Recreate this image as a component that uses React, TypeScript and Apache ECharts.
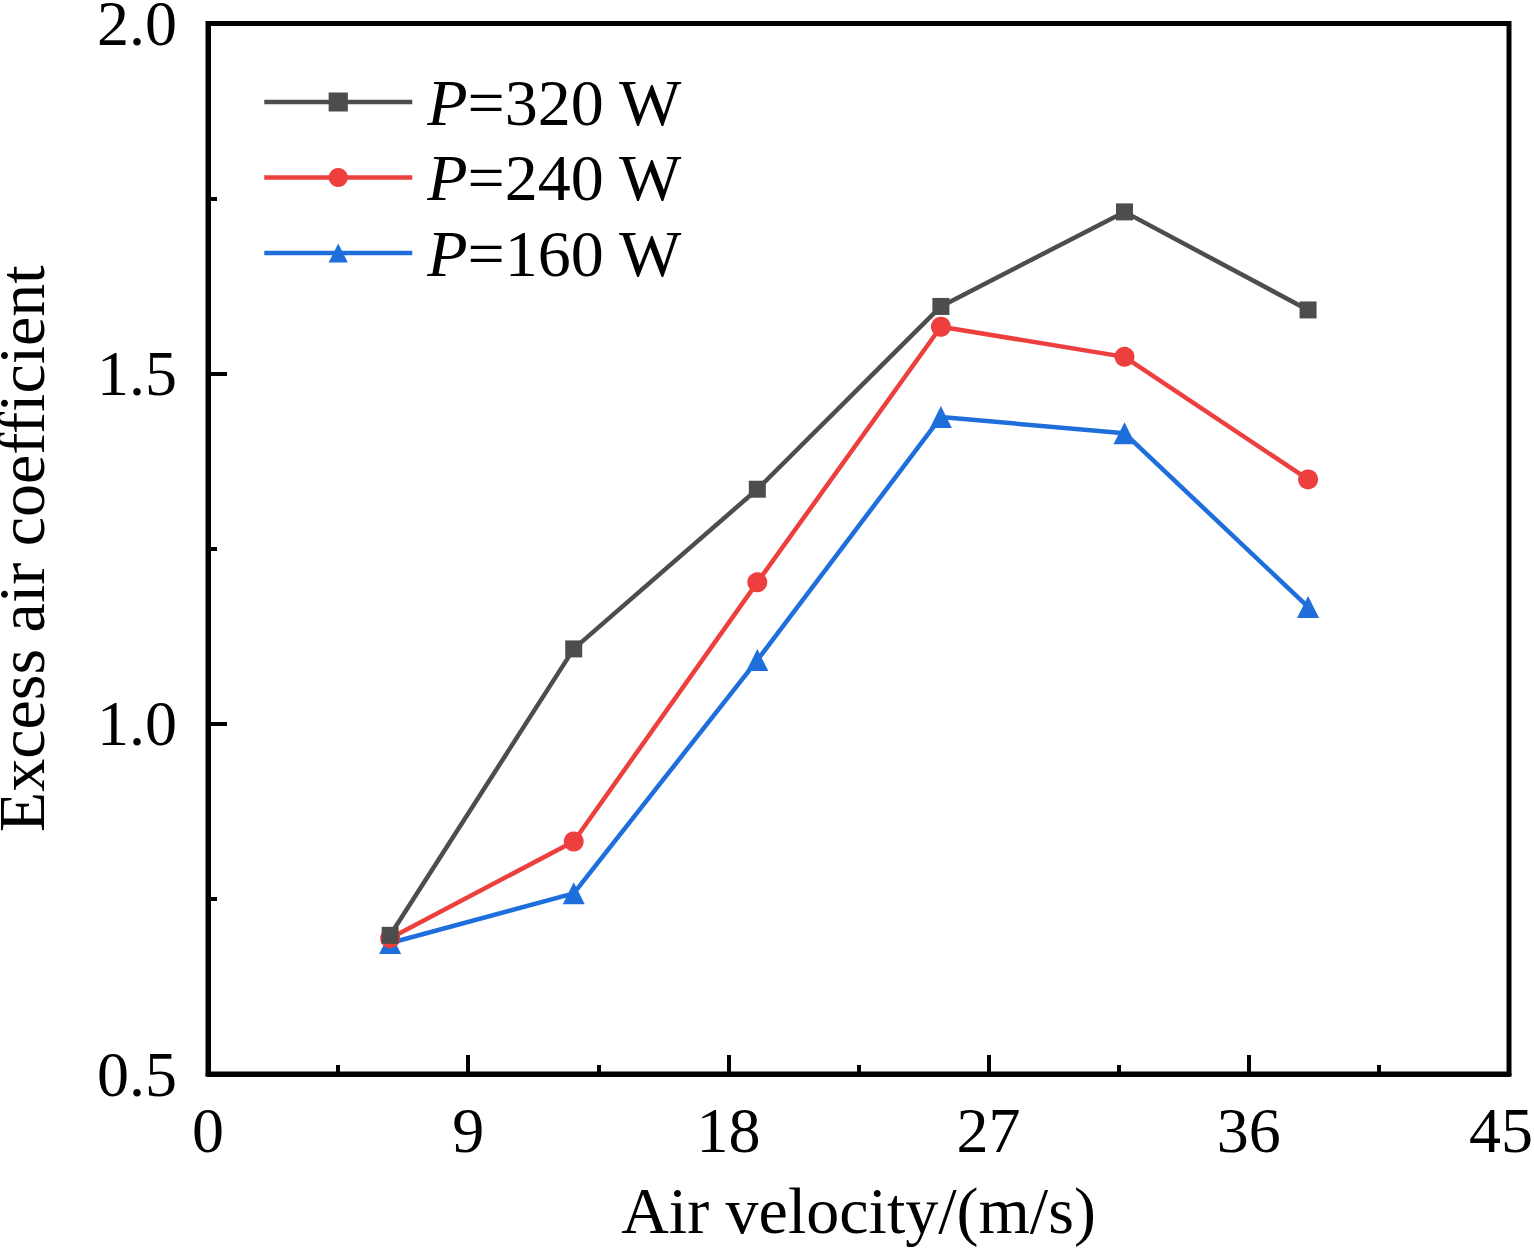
import React, { useEffect, useRef } from "react";
import * as echarts from "echarts";

const velocity = [6.3, 12.65, 19.0, 25.35, 31.7, 38.05];
const p320 = [0.698, 1.107, 1.335, 1.596, 1.731, 1.591];
const p240 = [0.694, 0.832, 1.202, 1.567, 1.524, 1.349];
const p160 = [0.687, 0.758, 1.091, 1.438, 1.415, 1.167];

const seriesNames = ["P=320 W", "P=240 W", "P=160 W"];
const seriesColors = ["#4d4d4d", "#ee3f3f", "#1e6fdc"];
const seriesSymbols = ["rect", "circle", "triangle"];
const symbolSizes = [17, 20, 22];

const FONT = "'Liberation Serif', 'Times New Roman', serif";

const App = () => {
    const chartRef = useRef(null);

    useEffect(() => {
        const chart = echarts.init(chartRef.current, null, { renderer: "svg" });
        const values = [p320, p240, p160];

        const series = seriesNames.map((name, i) => ({
            name,
            type: "line",
            data: velocity.map((v, j) => [v, values[i][j]]),
            symbol: seriesSymbols[i],
            symbolSize: symbolSizes[i],
            itemStyle: { color: seriesColors[i] },
            lineStyle: { color: seriesColors[i], width: 4.5 },
            z: 3 - i,
        }));

        const option = {
            animation: false,
            backgroundColor: "#fff",
            grid: {
                left: 208,
                right: 25,
                top: 23.5,
                bottom: 176,
                outerBoundsMode: "none",
                containLabel: false,
                show: true,
                borderColor: "#000",
                borderWidth: 5,
            },
            legend: {
                orient: "vertical",
                left: 262,
                top: 69,
                padding: 0,
                itemWidth: 148,
                itemHeight: 24,
                itemGap: 9.5,
                selectedMode: false,
                data: seriesNames,
                lineStyle: { width: 4.5 },
                formatter: (name) => "{i|P}{n|" + name.slice(1) + "}",
                textStyle: {
                    fontFamily: FONT,
                    fontSize: 66,
                    color: "#000",
                    lineHeight: 66,
                    rich: {
                        i: { fontFamily: FONT, fontSize: 66, fontStyle: "italic", color: "#000", padding: [0, 0, 0, 10], lineHeight: 66 },
                        n: { fontFamily: FONT, fontSize: 66, color: "#000", lineHeight: 66 },
                    },
                },
            },
            xAxis: {
                type: "value",
                min: 0,
                max: 45,
                interval: 9,
                name: "Air velocity/(m/s)",
                nameLocation: "middle",
                nameGap: 103,
                nameTextStyle: { fontFamily: FONT, fontSize: 66, color: "#000" },
                axisLine: { show: true, onZero: false, lineStyle: { color: "#000", width: 5 } },
                axisTick: { show: true, inside: true, length: 19, lineStyle: { color: "#000", width: 4 } },
                minorTick: { show: true, splitNumber: 2, length: 9, lineStyle: { color: "#000", width: 4 } },
                axisLabel: {
                    fontFamily: FONT,
                    fontSize: 64,
                    color: "#000",
                    margin: 24,
                    formatter: (v) => (v === 45 ? "{r|45}" : String(v)),
                    rich: {
                        r: { fontFamily: FONT, fontSize: 64, color: "#000", padding: [0, 16, 0, 0] },
                    },
                },
                splitLine: { show: false },
            },
            yAxis: {
                type: "value",
                min: 0.5,
                max: 2.0,
                interval: 0.5,
                name: "Excess air coefficient",
                nameLocation: "middle",
                nameGap: 154,
                nameTextStyle: { fontFamily: FONT, fontSize: 66, color: "#000" },
                axisLine: { show: true, onZero: false, lineStyle: { color: "#000", width: 5 } },
                axisTick: { show: true, inside: true, length: 19, lineStyle: { color: "#000", width: 4 } },
                minorTick: { show: true, splitNumber: 2, length: 9, lineStyle: { color: "#000", width: 4 } },
                axisLabel: {
                    fontFamily: FONT,
                    fontSize: 64,
                    lineHeight: 44,
                    color: "#000",
                    margin: 31,
                    formatter: (v) => v.toFixed(1),
                },
                splitLine: { show: false },
            },
            series,
        };

        chart.setOption(option);

        return () => {
            chart.dispose();
        };
    }, []);

    return (
        <div
            ref={chartRef}
            style={{ position: "absolute", left: 0, top: 0, width: "1534px", height: "1250px", backgroundColor: "white" }}
        />
    );
};

export default App;
